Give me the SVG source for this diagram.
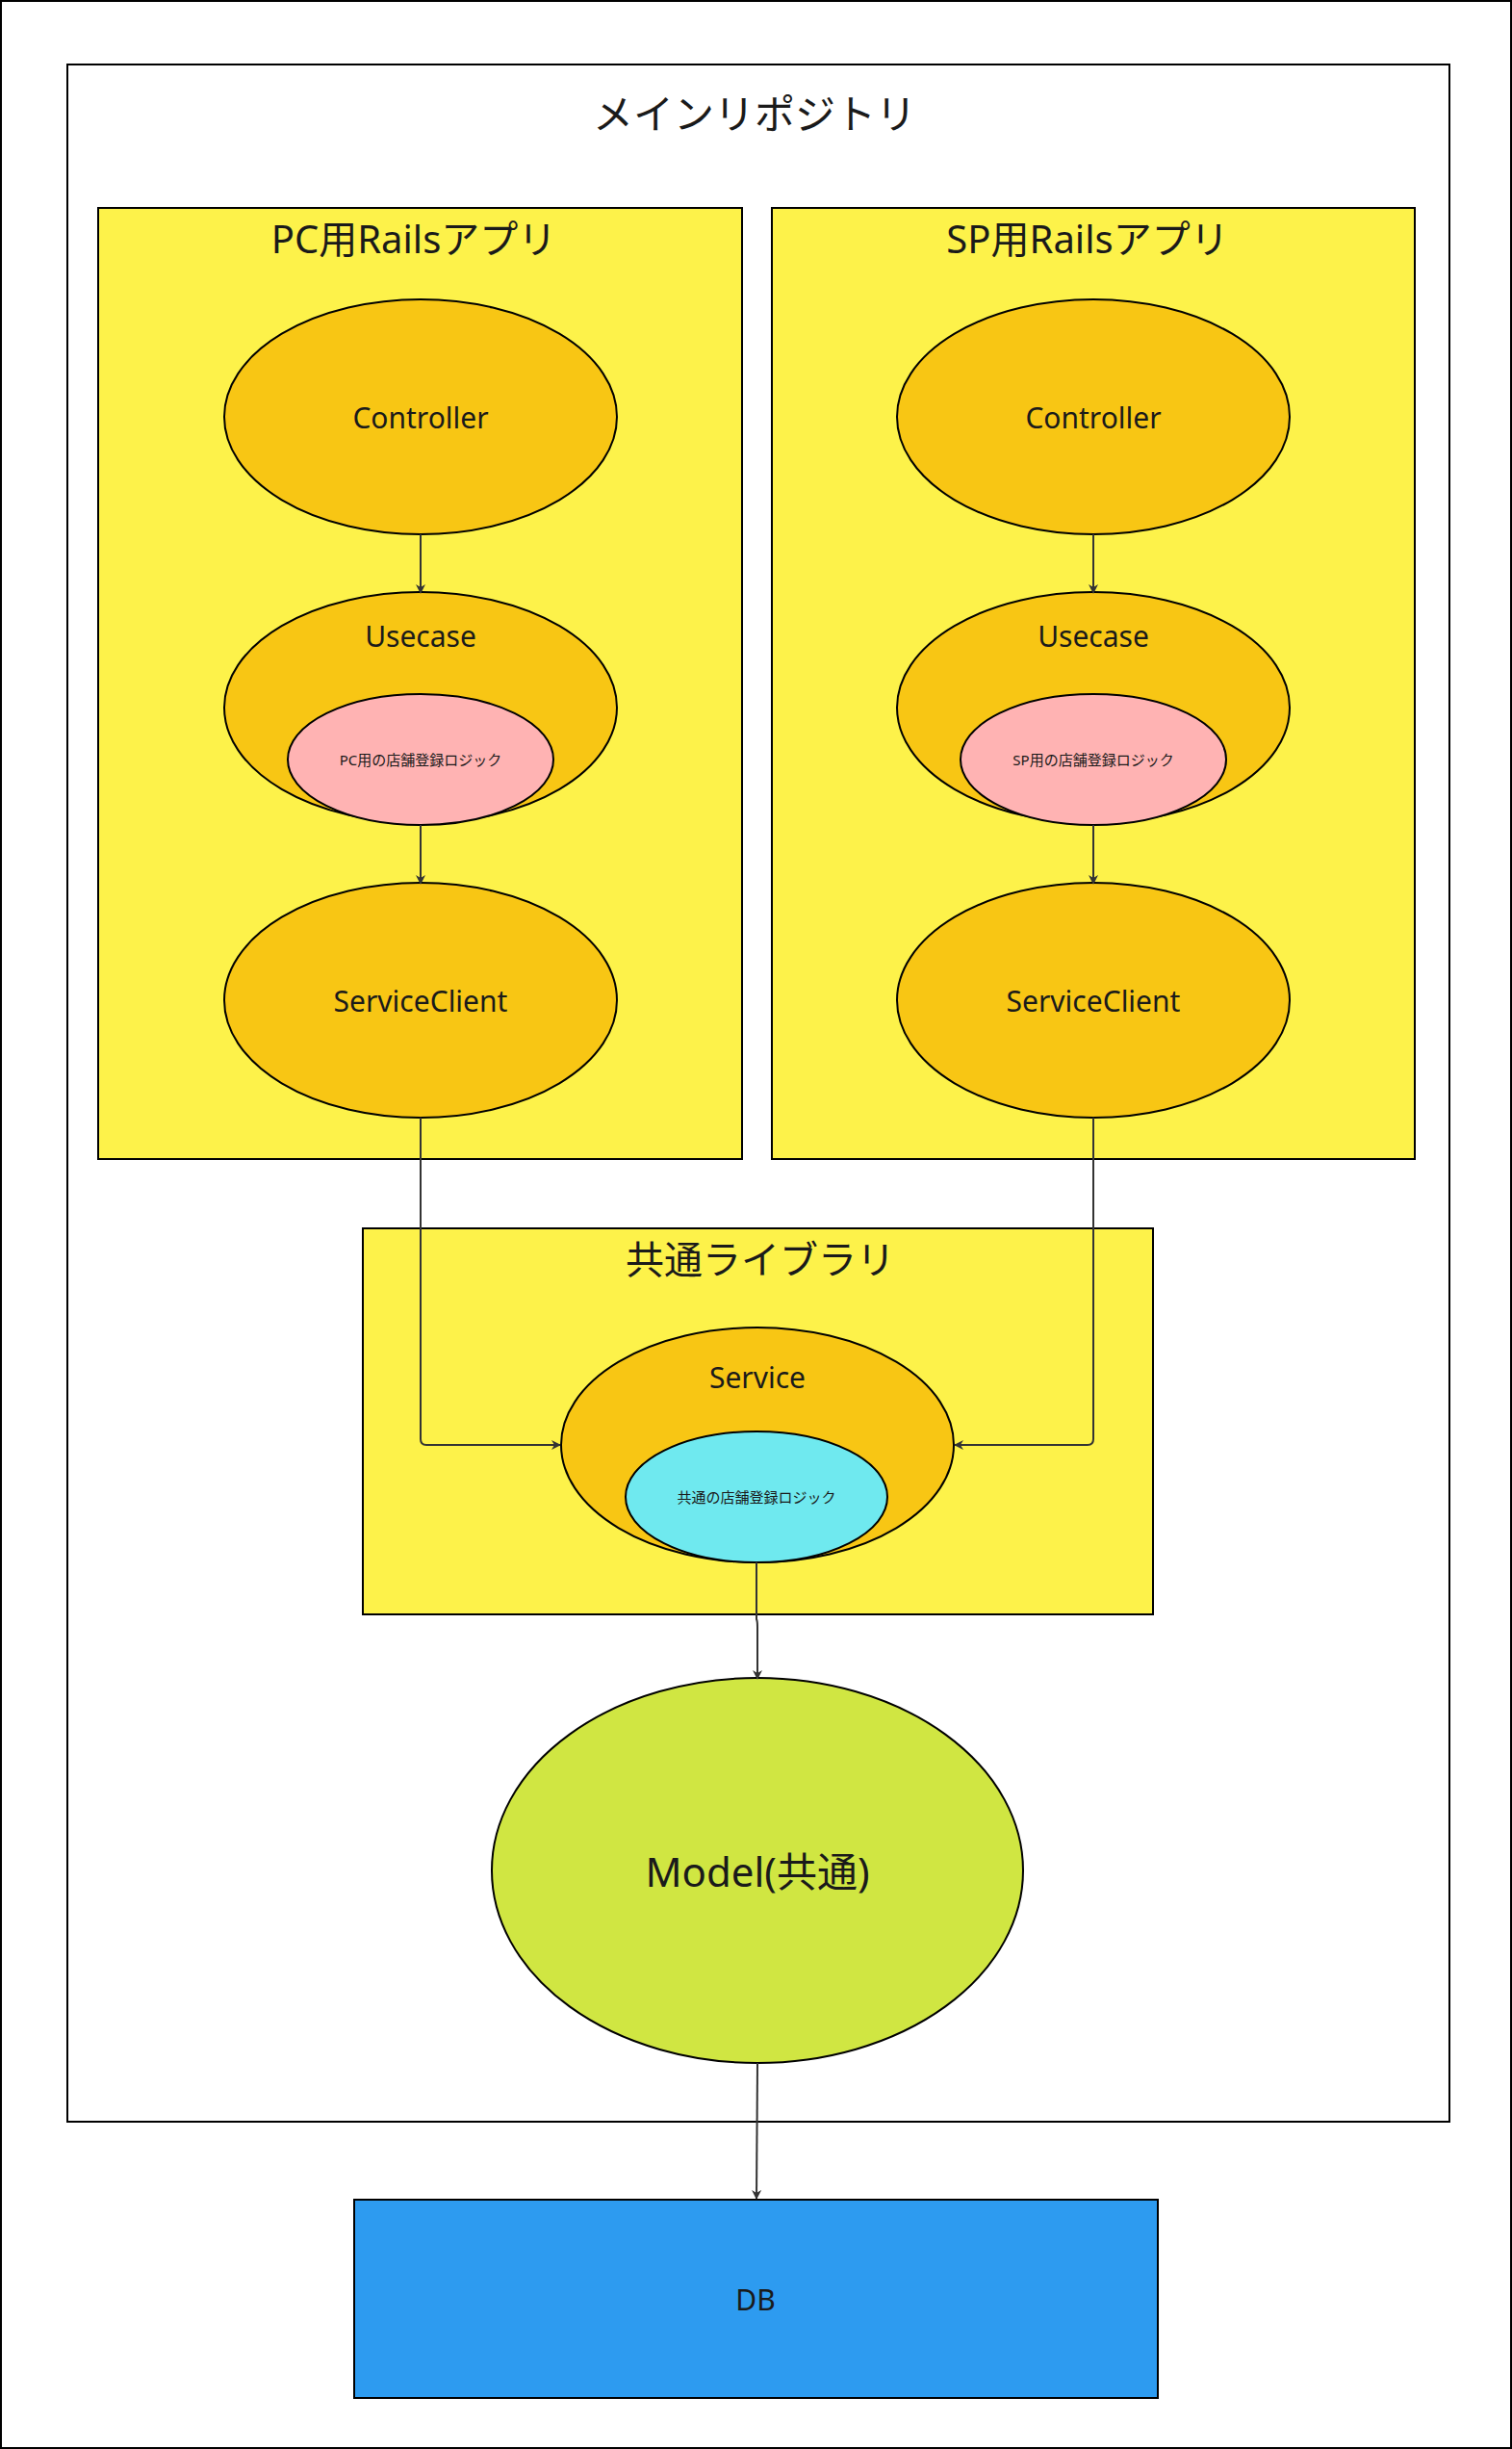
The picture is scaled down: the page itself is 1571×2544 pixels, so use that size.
<svg xmlns="http://www.w3.org/2000/svg" width="1571" height="2544" viewBox="0 0 1571 2544">
<style>
text{font-family:"Noto Sans","Noto Sans CJK JP",sans-serif;fill:#1a1a1a;text-anchor:middle;dominant-baseline:central}
.b{stroke:#000;stroke-width:2}
.o{fill:#f8c614;stroke:#000;stroke-width:2}
.c{fill:none;stroke:#333;stroke-width:2}
</style>
<defs><marker id="a" markerWidth="10" markerHeight="10" refX="9" refY="5" orient="auto" markerUnits="userSpaceOnUse"><path d="M0,0 L10,5 L0,10 L3,5 z" fill="#333"/></marker></defs>
<rect x="0" y="0" width="1571" height="2544" fill="#fff"/>
<rect x="1" y="1" width="1569" height="2542" fill="none" stroke="#000" stroke-width="2"/>
<g id="main"><rect x="70" y="67" width="1436" height="2137" fill="#fff" class="b"/><text x="784" y="117" font-size="42">メインリポジトリ</text></g>
<g id="pc"><rect x="102" y="216" width="669" height="988" fill="#fdf24a" class="b"/><text x="430" y="247" font-size="40">PC用Railsアプリ</text></g>
<g id="sp"><rect x="802" y="216" width="668" height="988" fill="#fdf24a" class="b"/><text x="1130" y="247" font-size="40">SP用Railsアプリ</text></g>
<g id="pcController"><ellipse cx="437" cy="433" rx="204" ry="122" class="o"/><text x="437" y="433" font-size="30">Controller</text></g>
<g id="pcUsecase"><ellipse cx="437" cy="735" rx="204" ry="120" class="o"/><text x="437" y="660" font-size="30">Usecase</text></g>
<g id="pcLogic"><ellipse cx="437" cy="789" rx="138" ry="68" fill="#ffb3b3" class="b"/><text x="437" y="789" font-size="15">PC用の店舗登録ロジック</text></g>
<g id="pcClient"><ellipse cx="437" cy="1039" rx="204" ry="122" class="o"/><text x="437" y="1039" font-size="30">ServiceClient</text></g>
<g id="spController"><ellipse cx="1136" cy="433" rx="204" ry="122" class="o"/><text x="1136" y="433" font-size="30">Controller</text></g>
<g id="spUsecase"><ellipse cx="1136" cy="735" rx="204" ry="120" class="o"/><text x="1136" y="660" font-size="30">Usecase</text></g>
<g id="spLogic"><ellipse cx="1136" cy="789" rx="138" ry="68" fill="#ffb3b3" class="b"/><text x="1136" y="789" font-size="15">SP用の店舗登録ロジック</text></g>
<g id="spClient"><ellipse cx="1136" cy="1039" rx="204" ry="122" class="o"/><text x="1136" y="1039" font-size="30">ServiceClient</text></g>
<g id="lib"><rect x="377" y="1276" width="821" height="401" fill="#fdf24a" class="b"/><text x="790" y="1307" font-size="40">共通ライブラリ</text></g>
<g id="service"><ellipse cx="787" cy="1501" rx="204" ry="122" class="o"/><text x="787" y="1430" font-size="30">Service</text></g>
<g id="common"><ellipse cx="786" cy="1555" rx="136" ry="68" fill="#6fe9ef" class="b"/><text x="786" y="1555" font-size="15">共通の店舗登録ロジック</text></g>
<g id="model"><ellipse cx="787" cy="1943" rx="276" ry="200" fill="#d0e642" class="b"/><text x="787" y="1943" font-size="42">Model(共通)</text></g>
<g id="db"><rect x="368" y="2285" width="835" height="206" fill="#2d9bf0" class="b"/><text x="785" y="2388" font-size="30">DB</text></g>
<g id="connectors">
<path class="c" d="M437,555 V616" marker-end="url(#a)"/>
<path class="c" d="M437,857 V918" marker-end="url(#a)"/>
<path class="c" d="M1136,555 V616" marker-end="url(#a)"/>
<path class="c" d="M1136,857 V918" marker-end="url(#a)"/>
<path class="c" d="M437,1161 V1495 Q437,1501 443,1501 H582" marker-end="url(#a)"/>
<path class="c" d="M1136,1161 V1495 Q1136,1501 1130,1501 H992" marker-end="url(#a)"/>
<path class="c" d="M786,1623 V1682 Q787,1684 787,1690 V1744" marker-end="url(#a)"/>
<path class="c" d="M787,2143 L786,2284" marker-end="url(#a)"/>
</g>
</svg>
